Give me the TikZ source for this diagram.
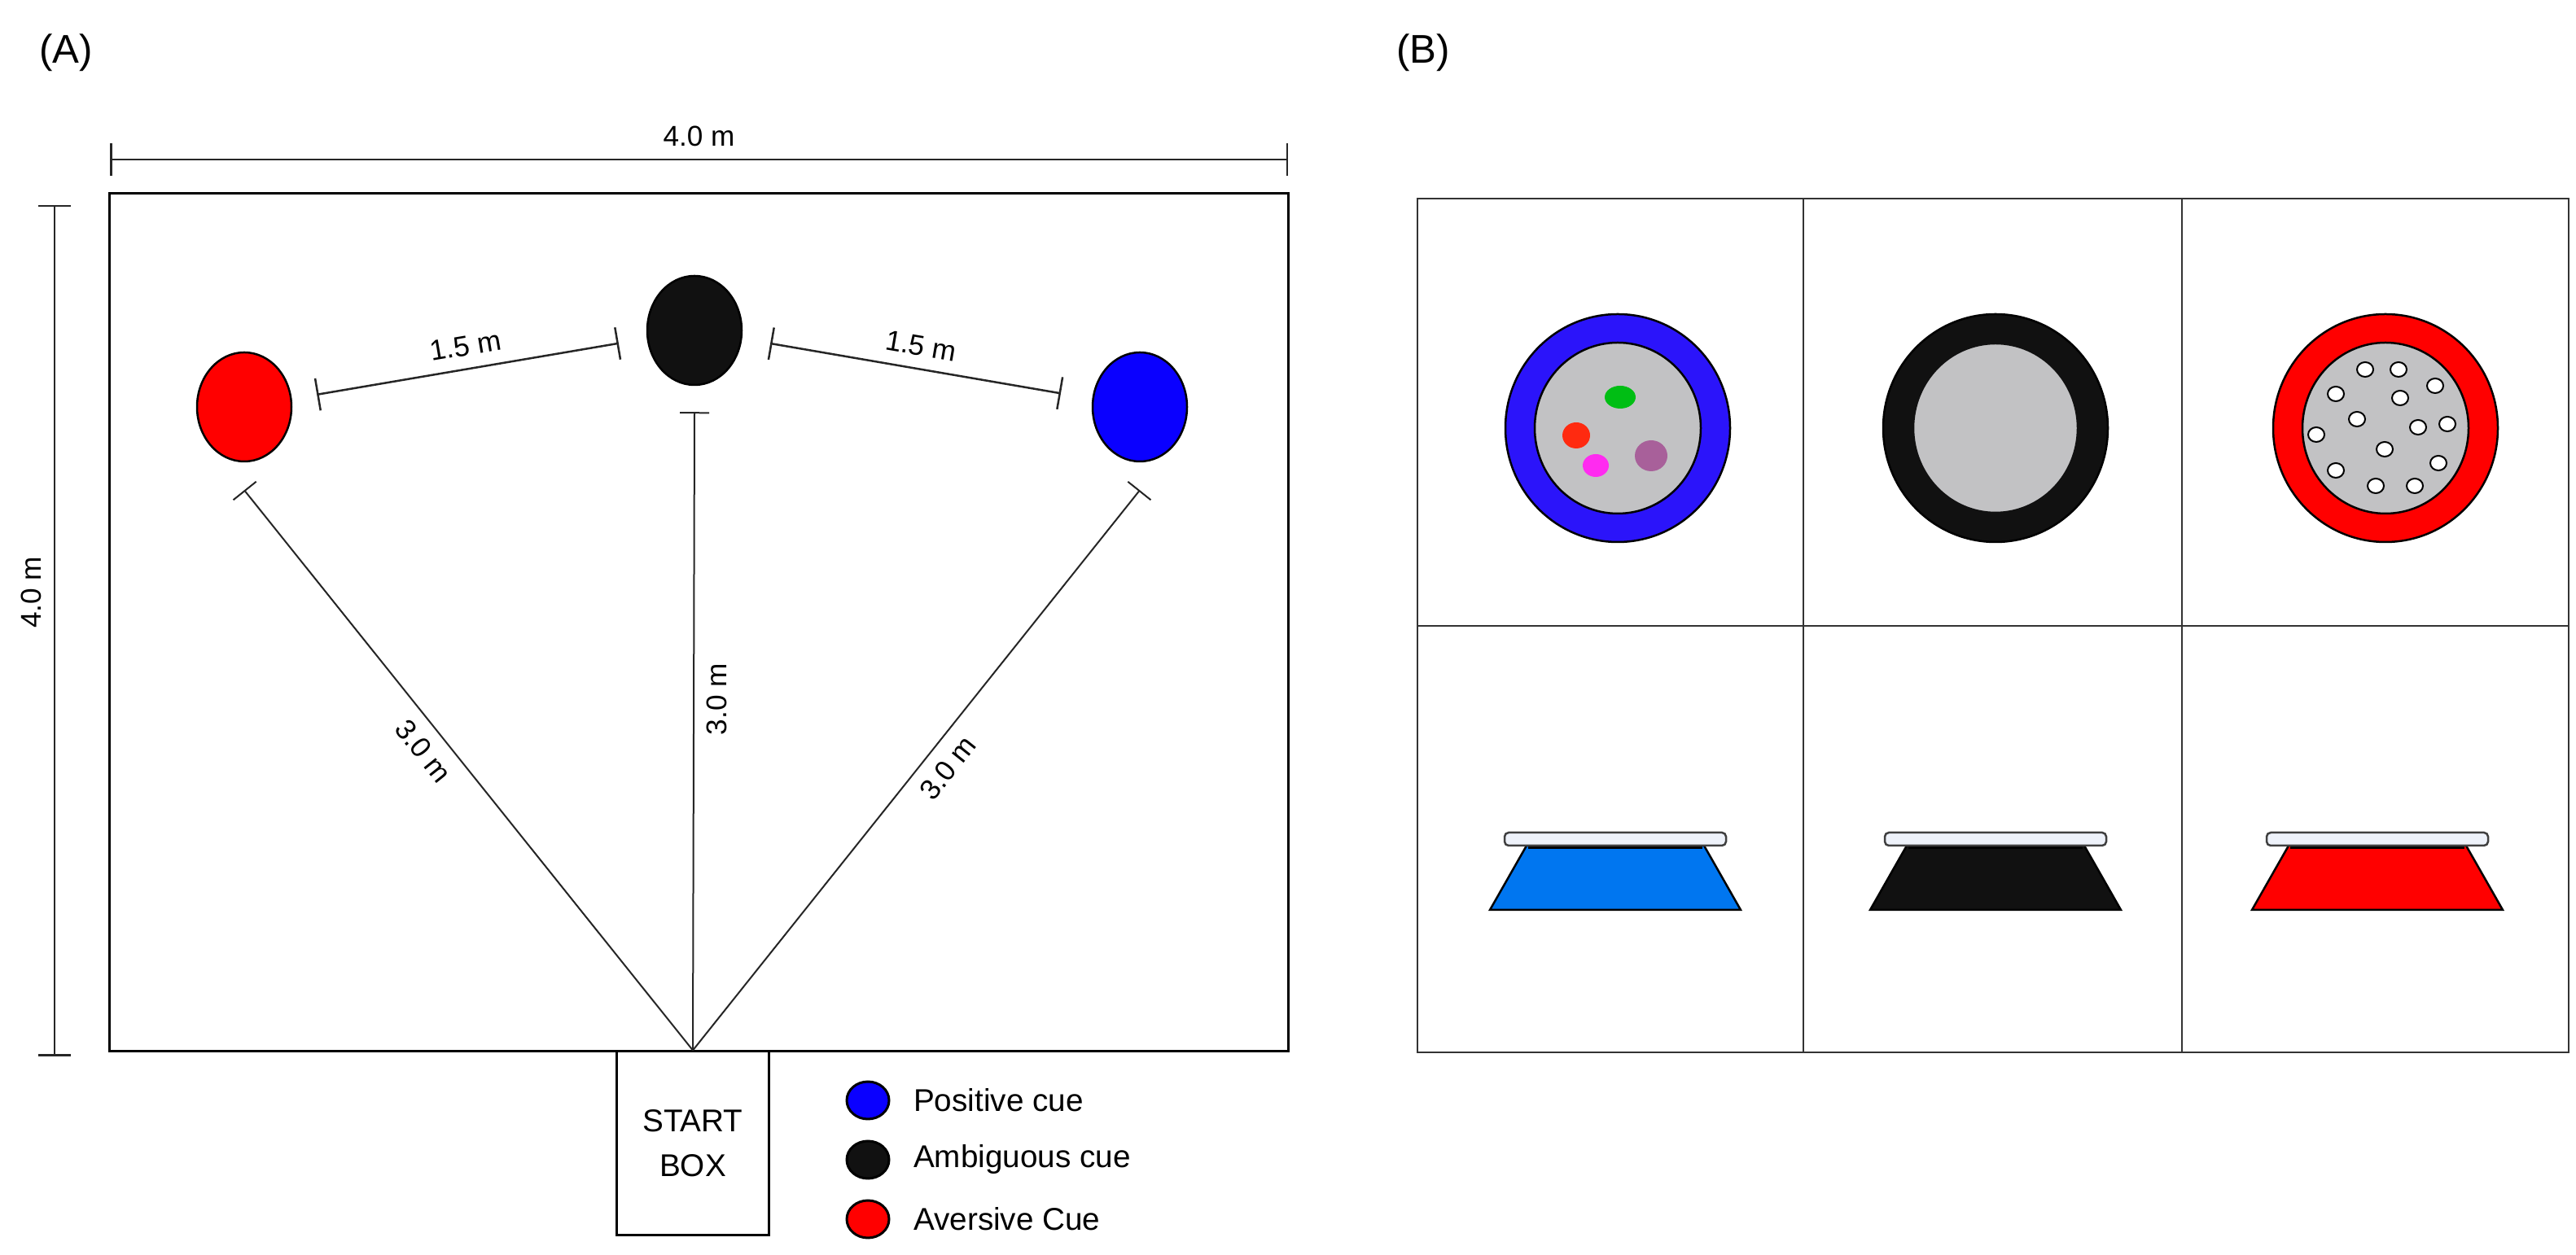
\documentclass[tikz,border=0pt]{standalone}
\usepackage{fontspec}
\setmainfont{Liberation Sans}
\usetikzlibrary{positioning,arrows.meta,shapes.geometric}
\definecolor{cuered}{RGB}{255,0,0}
\definecolor{cueblue}{RGB}{10,0,255}
\definecolor{cueblack}{RGB}{17,17,17}
\definecolor{ringblue}{RGB}{43,20,250}
\definecolor{dishgray}{RGB}{194,194,196}
\definecolor{bowlblue}{RGB}{0,118,240}
\definecolor{lidwhite}{RGB}{238,242,250}
\definecolor{spotgreen}{RGB}{0,190,20}
\definecolor{spotred}{RGB}{255,42,16}
\definecolor{spotpink}{RGB}{255,43,240}
\definecolor{spotmauve}{RGB}{168,96,154}

\begin{document}
\begin{tikzpicture}[x=1mm,y=1mm,
	cue/.style={ellipse,draw,line width=0.25mm,minimum width=11.6mm,minimum height=13.4mm,inner sep=0pt},
	legcue/.style={ellipse,draw,line width=0.3mm,minimum width=5.2mm,minimum height=4.6mm,inner sep=0pt},
	dimline/.style={line width=0.25mm,draw=black!85,{Bar[width=4mm]}-{Bar[width=4mm]}},
	runline/.style={line width=0.2mm,draw=black!85,-{Bar[width=3.6mm]}},
	dimtext/.style={font=\fontsize{10}{12}\selectfont,inner sep=1.5mm},
	legtext/.style={font=\fontsize{11}{13}\selectfont,anchor=west,inner sep=0pt},
	paneltext/.style={font=\fontsize{14}{16}\selectfont},
	gridline/.style={line width=0.2mm,draw=black!80}]
	\useasboundingbox (0,0) rectangle (316.4,154.2);
%
	\node[paneltext] (panelA) at (8.1,147.7) {(A)};
	\node[paneltext] (panelB) at (174.8,147.7) {(B)};
%
	\node[draw,line width=0.3mm,minimum width=144.7mm,minimum height=105.4mm,inner sep=0pt] (arena) at (85.85,77.7) {};
	\node[draw,line width=0.3mm,fill=white,minimum width=18.7mm,minimum height=22.6mm,align=center,font=\fontsize{11}{15.6}\selectfont] (start) at (85.1,13.7) {START\\BOX};
%
	\coordinate (widthL) at (13.5,134.6);
	\coordinate (widthR) at (158.2,134.6);
	\draw[dimline] (widthL) -- node[above,dimtext] (widthtext) {4.0 m} (widthR);
	\coordinate (depthB) at (6.7,24.4);
	\coordinate (depthT) at (6.7,129.0);
	\draw[dimline] (depthB) -- node[pos=0.545,sloped,above,dimtext] (depthtext) {4.0 m} (depthT);
%
	\node[cue,fill=cuered] (aversive) at (30.0,104.2) {};
	\node[cue,fill=cueblack] (ambiguous) at (85.3,113.6) {};
	\node[cue,fill=cueblue] (positive) at (140.0,104.2) {};
	\draw[dimline,shorten <=3.1mm,shorten >=3.5mm] (aversive) -- node[above,sloped,dimtext] (gapL) {1.5 m} (ambiguous);
	\draw[dimline,shorten <=3.5mm,shorten >=3.9mm] (ambiguous) -- node[above,sloped,dimtext] (gapR) {1.5 m} (positive);
%
	\coordinate[below=3.4mm of aversive] (aversivefoot);
	\coordinate[below=3.2mm of ambiguous] (ambiguousfoot);
	\coordinate[below=3.4mm of positive] (positivefoot);
	\draw[runline] (start.north) -- node[pos=0.56,sloped,below,dimtext] (runL) {3.0 m} (aversivefoot);
	\draw[runline] (start.north) -- node[pos=0.55,sloped,below,dimtext] (runC) {3.0 m} (ambiguousfoot);
	\draw[runline] (start.north) -- node[pos=0.53,sloped,below,dimtext] (runR) {3.0 m} (positivefoot);
%
	\node[legcue,fill=cueblue] (legpositive) at (106.6,19.0) {};
		\node[legtext,right=2.8mm of legpositive] (legpositivetext) {Positive cue};
	\node[legcue,fill=cueblack] (legambiguous) at (106.6,11.7) {};
		\node[legtext,right=2.8mm of legambiguous] (legambiguoustext) {Ambiguous cue};
	\node[legcue,fill=cuered] (legaversive) at (106.6,4.4) {};
		\node[legtext,right=2.8mm of legaversive] (legaversivetext) {Aversive Cue};
%
	\draw[gridline] (174.1,24.9) rectangle (315.5,129.8);
	\draw[gridline] (221.5,24.9) -- (221.5,129.8);
	\draw[gridline] (268.0,24.9) -- (268.0,129.8);
	\draw[gridline] (174.1,77.3) -- (315.5,77.3);
%
	\begin{scope}[shift={(198.7,101.6)}]
		\filldraw[fill=ringblue,line width=0.25mm] (0,0) ellipse [x radius=13.8mm,y radius=14mm];
		\filldraw[fill=dishgray,line width=0.25mm] (0,0) ellipse [x radius=10.2mm,y radius=10.5mm];
		\fill[spotgreen] (0.3,3.8) ellipse [x radius=1.9mm,y radius=1.4mm];
		\fill[spotred] (-5.1,-0.9) ellipse [x radius=1.7mm,y radius=1.6mm];
		\fill[spotpink] (-2.7,-4.6) ellipse [x radius=1.6mm,y radius=1.4mm];
		\fill[spotmauve] (4.1,-3.4) ellipse [x radius=2.0mm,y radius=1.9mm];
	\end{scope}
	\begin{scope}[shift={(245.1,101.6)}]
		\filldraw[fill=cueblack,line width=0.25mm] (0,0) ellipse [x radius=13.8mm,y radius=14mm];
		\filldraw[fill=dishgray,draw=cueblack,line width=0.25mm] (0,0) ellipse [x radius=10.1mm,y radius=10.4mm];
	\end{scope}
	\begin{scope}[shift={(293.0,101.6)}]
		\filldraw[fill=cuered,line width=0.25mm] (0,0) ellipse [x radius=13.8mm,y radius=14mm];
		\filldraw[fill=dishgray,line width=0.25mm] (0,0) ellipse [x radius=10.2mm,y radius=10.5mm];
		\foreach \dx/\dy in {-2.5/7.2,1.6/7.2,6.1/5.2,-6.1/4.2,1.8/3.7,-3.5/1.1,4.0/0.1,7.6/0.5,-8.5/-0.8,-0.1/-2.6,6.5/-4.3,-6.1/-5.2,-1.2/-7.1,3.6/-7.1}
			\filldraw[fill=white,line width=0.2mm] (\dx,\dy) ellipse [x radius=1.0mm,y radius=0.9mm];
	\end{scope}
%
	\foreach \bx/\bowl in {198.4/bowlblue,245.1/cueblack,292.0/cuered}{
		\begin{scope}[shift={(\bx,42.4)}]
			\filldraw[fill=\bowl,line width=0.25mm] (-15.4,0) -- (15.4,0) -- (10.9,7.9) -- (-10.9,7.9) -- cycle;
			\draw[line width=0.8mm] (-10.7,7.9) -- (10.7,7.9);
			\filldraw[fill=lidwhite,draw=black!75,line width=0.25mm,rounded corners=0.5mm] (-13.6,7.9) rectangle (13.6,9.5);
		\end{scope}
	}
\end{tikzpicture}
\end{document}
